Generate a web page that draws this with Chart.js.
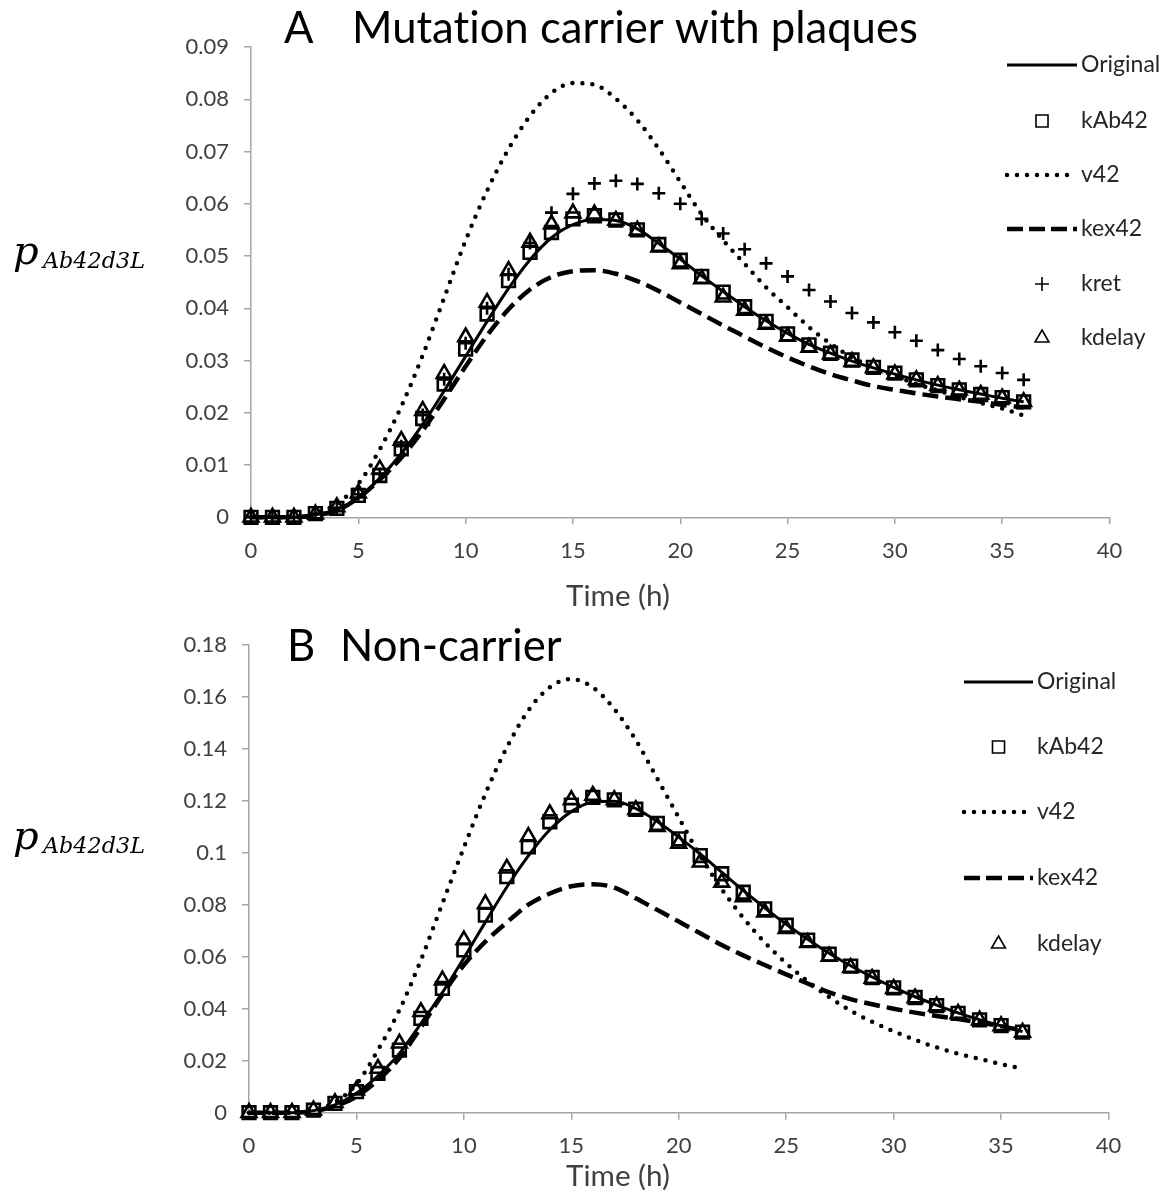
<!DOCTYPE html>
<html lang="en">
<head>
  <meta charset="UTF-8" />
  <title>pAb42d3L over time</title>
  <script src="https://cdn.jsdelivr.net/npm/chart.js"></script>
  <style>
    html, body { margin: 0; padding: 0; background: #fff; }
    #wrap { position: relative; width: 1175px; height: 1194px; }
    canvas { position: absolute; left: 0; }
    #chartA { top: 0; }
    #chartB { top: 612px; }
  </style>
</head>
<body>
<div id="wrap">
  <canvas id="chartA" width="1175" height="612"></canvas>
  <canvas id="chartB" width="1175" height="582"></canvas>
</div>

<script>
  // ---- data ----
  const hours = [0, 1, 2, 3, 4, 5, 6, 7, 8, 9, 10, 11, 12, 13, 14, 15, 16, 17, 18,
                 19, 20, 21, 22, 23, 24, 25, 26, 27, 28, 29, 30, 31, 32, 33, 34, 35, 36];
  const xTicks = [0, 5, 10, 15, 20, 25, 30, 35, 40];

  // A  Mutation carrier with plaques
  const aOriginal = [0, 0, 0, 0.0005, 0.0015, 0.0038, 0.0075, 0.0122, 0.0178, 0.0242, 0.0308, 0.0375, 0.0438,
    0.0493, 0.0535, 0.0560, 0.0570, 0.0568, 0.0552, 0.0524, 0.0494, 0.0462, 0.0432, 0.0403, 0.0376, 0.0352,
    0.0331, 0.0314, 0.0299, 0.0286, 0.0274, 0.0263, 0.0253, 0.0244, 0.0236, 0.0228, 0.0221];
  const aKAb42 = [0, 0, 0, 0.0007, 0.0017, 0.0042, 0.0080, 0.0131, 0.0189, 0.0255, 0.0322, 0.0389, 0.0453,
    0.0507, 0.0545, 0.0571, 0.0577, 0.0569, 0.0550, 0.0522, 0.0492, 0.0461, 0.0431, 0.0403, 0.0375, 0.0351,
    0.0330, 0.0314, 0.0301, 0.0287, 0.0276, 0.0263, 0.0252, 0.0244, 0.0235, 0.0229, 0.0221];
  const aV42 = [0, 0, 0, 0.0008, 0.0026, 0.0064, 0.0130, 0.0212, 0.0310, 0.0420, 0.0530, 0.0625, 0.0705,
    0.0768, 0.0812, 0.0831, 0.0828, 0.0801, 0.0760, 0.0705, 0.0642, 0.0580, 0.0530, 0.0485, 0.0440, 0.0402,
    0.0364, 0.0332, 0.0306, 0.0287, 0.0271, 0.0255, 0.0243, 0.0230, 0.0219, 0.0208, 0.0195];
  const aKex42 = [0, 0, 0, 0.0004, 0.0013, 0.0037, 0.0072, 0.0114, 0.0166, 0.0226, 0.0289, 0.0348, 0.0398,
    0.0436, 0.0460, 0.0471, 0.0473, 0.0466, 0.0452, 0.0433, 0.0411, 0.0389, 0.0367, 0.0346, 0.0325, 0.0306,
    0.0289, 0.0274, 0.0262, 0.0251, 0.0244, 0.0237, 0.0231, 0.0226, 0.0221, 0.0215, 0.0210];
  const aKret = [0, 0, 0, 0.0007, 0.0018, 0.0044, 0.0083, 0.0136, 0.0196, 0.0264, 0.0333, 0.0400, 0.0465,
    0.0525, 0.0583, 0.0619, 0.0639, 0.0644, 0.0638, 0.0620, 0.0600, 0.0571, 0.0543, 0.0513, 0.0486, 0.0461,
    0.0435, 0.0413, 0.0391, 0.0373, 0.0354, 0.0338, 0.0320, 0.0303, 0.0289, 0.0276, 0.0263];
  const aKdelay = [0, 0, 0, 0.0006, 0.0020, 0.0046, 0.0092, 0.0147, 0.0204, 0.0275, 0.0345, 0.0411, 0.0472,
    0.0526, 0.0561, 0.0582, 0.0580, 0.0568, 0.0549, 0.0517, 0.0485, 0.0456, 0.0421, 0.0396, 0.0369, 0.0346,
    0.0325, 0.0312, 0.0298, 0.0286, 0.0274, 0.0263, 0.0252, 0.0243, 0.0235, 0.0228, 0.0221];

  // B  Non-carrier
  const bOriginal = [0, 0, 0, 0.0008, 0.0030, 0.0075, 0.0142, 0.0228, 0.0343, 0.0462, 0.0595, 0.0733, 0.0868,
    0.0988, 0.1088, 0.1158, 0.1195, 0.1198, 0.1170, 0.1120, 0.1060, 0.0995, 0.0925, 0.0855, 0.0788, 0.0725,
    0.0667, 0.0613, 0.0565, 0.0522, 0.0482, 0.0446, 0.0414, 0.0384, 0.0358, 0.0334, 0.0312];
  const bKAb42 = [0, 0, 0, 0.0010, 0.0036, 0.0081, 0.0151, 0.0241, 0.0363, 0.0478, 0.0626, 0.0760, 0.0908,
    0.1023, 0.1119, 0.1183, 0.1213, 0.1203, 0.1167, 0.1113, 0.1053, 0.0989, 0.0919, 0.0848, 0.0784, 0.0721,
    0.0664, 0.0610, 0.0564, 0.0520, 0.0480, 0.0443, 0.0412, 0.0382, 0.0357, 0.0335, 0.0310];
  const bV42 = [0, 0, 0, 0.0010, 0.0040, 0.0110, 0.0241, 0.0395, 0.0587, 0.0805, 0.1020, 0.1226, 0.1405,
    0.1547, 0.1636, 0.1668, 0.1636, 0.1553, 0.1433, 0.1285, 0.1135, 0.0988, 0.0860, 0.0750, 0.0655, 0.0575,
    0.0505, 0.0445, 0.0392, 0.0350, 0.0313, 0.0280, 0.0251, 0.0227, 0.0207, 0.0187, 0.0170];
  const bKex42 = [0, 0, 0, 0.0006, 0.0025, 0.0062, 0.0125, 0.0210, 0.0328, 0.0455, 0.0568, 0.0658, 0.0732,
    0.0800, 0.0843, 0.0871, 0.0879, 0.0866, 0.0825, 0.0780, 0.0735, 0.0690, 0.0645, 0.0605, 0.0568, 0.0532,
    0.0497, 0.0463, 0.0437, 0.0417, 0.0400, 0.0385, 0.0372, 0.0360, 0.0347, 0.0333, 0.0316];
  const bKdelay = [0, 0, 0, 0.0010, 0.0038, 0.0087, 0.0170, 0.0267, 0.0388, 0.0510, 0.0664, 0.0803, 0.0940,
    0.1062, 0.1149, 0.1203, 0.1220, 0.1203, 0.1165, 0.1100, 0.1036, 0.0963, 0.0886, 0.0830, 0.0771, 0.0708,
    0.0654, 0.0601, 0.0558, 0.0516, 0.0477, 0.0441, 0.0410, 0.0381, 0.0356, 0.0334, 0.0309];

  // ---- styles ----
  const INK = '#000';
  const AXIS = '#a6a6a6';
  const TXT = '#404040';
  const SANS = 'Lato, "Open Sans", sans-serif';

  const pts = (vals) => hours.map((h, i) => ({ x: h, y: vals[i] }));

  const lineDs = (label, vals, dash, width, cap, order) => ({
    label, data: pts(vals), borderColor: INK, borderWidth: width, borderDash: dash,
    borderCapStyle: cap, pointRadius: 0, cubicInterpolationMode: 'monotone', fill: false,
    clip: false, order
  });
  const markDs = (label, vals, style, radius, order) => ({
    label, data: pts(vals), showLine: false, pointStyle: style, pointRadius: radius,
    pointBorderColor: INK, pointBackgroundColor: 'rgba(0,0,0,0)', pointBorderWidth: 2.6,
    clip: false, order
  });

  // legend entries (style only, no data)
  const LEG = {
    Original: { kind: 'line', dash: [], width: 3, cap: 'butt' },
    kAb42: { kind: 'point', style: 'rect', r: 8.5 },
    v42: { kind: 'line', dash: [0, 10], width: 4.5, cap: 'round' },
    kex42: { kind: 'line', dash: [16, 6], width: 4.5, cap: 'butt' },
    kret: { kind: 'point', style: 'cross', r: 7 },
    kdelay: { kind: 'point', style: 'triangle', r: 8 }
  };

  function marker(ctx, style, r, x, y) {
    ctx.beginPath();
    if (style === 'rect') {
      const s = r * Math.SQRT1_2;
      ctx.rect(x - s, y - s, 2 * s, 2 * s);
    } else if (style === 'triangle') {
      ctx.moveTo(x, y - r);
      ctx.lineTo(x + r * 0.866, y + r / 2);
      ctx.lineTo(x - r * 0.866, y + r / 2);
      ctx.closePath();
    } else {
      ctx.moveTo(x, y - r); ctx.lineTo(x, y + r);
      ctx.moveTo(x - r, y); ctx.lineTo(x + r, y);
    }
    ctx.stroke();
  }

  function fitSize(ctx, text, target) {
    ctx.font = '100px ' + SANS;
    return 100 * target / ctx.measureText(text).width;
  }

  const decor = (o) => ({
    id: 'decor',
    afterDraw(chart) {
      const ctx = chart.ctx;
      ctx.save();
      ctx.setLineDash([]);
      if ('textRendering' in ctx) ctx.textRendering = 'optimizeSpeed';
      // panel title
      const ts = fitSize(ctx, 'Mutation carrier with plaques', 566);
      ctx.font = ts + 'px ' + SANS;
      ctx.fillStyle = INK;
      ctx.textAlign = 'left';
      ctx.textBaseline = 'alphabetic';
      ctx.fillText(o.letter, o.letterX, o.titleY);
      ctx.fillText(o.title, o.titleX, o.titleY);

      // x axis title (centred on the whole chart, not the plot)
      const xs = fitSize(ctx, 'Time (h)', 104);
      ctx.font = xs + 'px ' + SANS;
      ctx.fillStyle = TXT;
      ctx.fillText('Time (h)', 566, o.xTitleY);

      // y axis title  p_Ab42d3L
      ctx.fillStyle = INK;
      ctx.font = 'italic 40px "DejaVu Serif", serif';
      ctx.fillText('p', 13, o.yTitleY);
      ctx.font = 'italic 100px "DejaVu Serif", serif';
      const subSize = 100 * 102 / ctx.measureText('Ab42d3L').width;
      ctx.font = 'italic ' + subSize + 'px "DejaVu Serif", serif';
      ctx.fillText('Ab42d3L', 43, o.yTitleY + 4);

      // legend
      ctx.font = '23px ' + SANS;
      ctx.textBaseline = 'middle';
      o.legend.forEach((name, i) => {
        const y = o.legY[i];
        const s = LEG[name];
        ctx.strokeStyle = INK;
        if (s.kind === 'line') {
          ctx.lineWidth = s.width;
          ctx.lineCap = s.cap;
          ctx.setLineDash(s.dash);
          ctx.beginPath();
          ctx.moveTo(o.legX0, y);
          ctx.lineTo(o.legX1, y);
          ctx.stroke();
          ctx.setLineDash([]);
          ctx.lineCap = 'butt';
        } else {
          ctx.lineWidth = 1.6;
          marker(ctx, s.style, s.r, (o.legX0 + o.legX1) / 2, y);
        }
        ctx.fillStyle = '#262626';
        ctx.fillText(name, o.legX1 + 4, y);
      });
      ctx.restore();
    }
  });

  const fmt = (v) => String(parseFloat(v.toFixed(2)));

  function scales(yMax, yStep, yWidth, xHeight) {
    const grid = { drawOnChartArea: false, drawTicks: true, tickLength: 7, color: AXIS, lineWidth: 1.5 };
    const border = { display: true, color: AXIS, width: 1.5 };
    return {
      x: {
        type: 'linear', min: 0, max: 40,
        afterBuildTicks: (s) => { s.ticks = xTicks.map(v => ({ value: v })); },
        ticks: { color: TXT, font: { family: SANS, size: 22 }, padding: 13 },
        grid, border,
        afterFit: (s) => { s.height = xHeight; }
      },
      y: {
        type: 'linear', min: 0, max: yMax,
        ticks: { stepSize: yStep, color: TXT, font: { family: SANS, size: 22 }, padding: 15, callback: fmt },
        grid, border,
        afterFit: (s) => { s.width = yWidth; }
      }
    };
  }

  function baseOptions(yMax, yStep, yWidth, xHeight, pad) {
    return {
      responsive: false,
      animation: false,
      layout: { autoPadding: false, padding: pad },
      plugins: { legend: { display: false }, tooltip: { enabled: false } },
      scales: scales(yMax, yStep, yWidth, xHeight)
    };
  }

  // ---- A ----
  new Chart(document.getElementById('chartA'), {
    type: 'line',
    data: {
      datasets: [
        lineDs('v42', aV42, [0, 10], 4.5, 'round', 6),
        lineDs('kex42', aKex42, [16, 7], 4.5, 'butt', 5),
        lineDs('Original', aOriginal, [], 3, 'butt', 4),
        markDs('kret', aKret, 'cross', 6.5, 3),
        markDs('kAb42', aKAb42, 'rect', 9, 2),
        markDs('kdelay', aKdelay, 'triangle', 8.5, 1)
      ]
    },
    options: baseOptions(0.09, 0.01, 251, 612 - 517.3, { top: 47, right: 65.5, left: 0, bottom: 0 }),
    plugins: [decor({
      letter: 'A', letterX: 284, title: 'Mutation carrier with plaques', titleX: 352, titleY: 43,
      xTitleY: 606, yTitleY: 264,
      legend: ['Original', 'kAb42', 'v42', 'kex42', 'kret', 'kdelay'],
      legY: [65, 121, 175, 229, 284, 338], legX0: 1007, legX1: 1077
    })]
  });

  // ---- B ----
  new Chart(document.getElementById('chartB'), {
    type: 'line',
    data: {
      datasets: [
        lineDs('v42', bV42, [0, 10], 4.5, 'round', 6),
        lineDs('kex42', bKex42, [16, 7], 4.5, 'butt', 5),
        lineDs('Original', bOriginal, [], 3, 'butt', 4),
        markDs('kAb42', bKAb42, 'rect', 9, 2),
        markDs('kdelay', bKdelay, 'triangle', 8.5, 1)
      ]
    },
    options: baseOptions(0.18, 0.02, 249, 582 - 500.7, { top: 32.7, right: 66.5, left: 0, bottom: 0 }),
    plugins: [decor({
      letter: 'B', letterX: 287, title: 'Non-carrier', titleX: 340, titleY: 49,
      xTitleY: 574, yTitleY: 237,
      legend: ['Original', 'kAb42', 'v42', 'kex42', 'kdelay'],
      legY: [70, 135, 200, 266, 332], legX0: 964, legX1: 1033
    })]
  });
</script>
</body>
</html>
